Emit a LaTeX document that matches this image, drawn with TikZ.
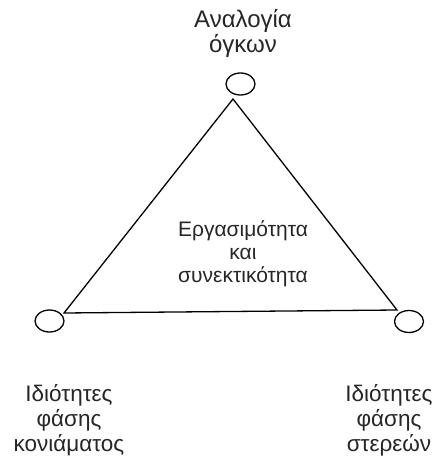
\documentclass[tikz,border=0pt]{standalone}
\usepackage{fontspec}
\setmainfont{Liberation Sans}
\usetikzlibrary{shapes.geometric}
\begin{document}
\begin{tikzpicture}[x=1pt,y=-1pt,
  vert/.style={draw,line width=1.3pt,ellipse,minimum width=29pt,minimum height=22pt,inner sep=0pt},
  lab/.style={align=center,text=black!85,inner sep=0pt},
  edge/.style={line width=1.3pt}]
\useasboundingbox (0,0) rectangle (434,457);
\node[vert] (top) at (240.5,84) {};
\node[vert] (left) at (49.5,321) {};
\node[vert] (right) at (409,321.5) {};
\coordinate (apex) at (233,99);
\coordinate (lv) at (64,313);
\coordinate (rv) at (397,310);
\draw[edge] (lv) -- (apex) -- (rv) -- cycle;
\node[lab,font=\fontsize{24}{25}\selectfont,anchor=base] (tl) at (243,53) {Αναλογία\\όγκων};
\node[lab,font=\fontsize{22.5}{25}\selectfont,anchor=base] (ll) at (69,451) {Ιδιότητες\\φάσης\\κονιάματος};
\node[lab,font=\fontsize{22.5}{25}\selectfont,anchor=base] (rl) at (389,451) {Ιδιότητες\\φάσης\\στερεών};
\node[lab,font=\fontsize{21}{23}\selectfont,anchor=base] (cl) at (243,282) {Εργασιμότητα\\και\\συνεκτικότητα};
\end{tikzpicture}
\end{document}
